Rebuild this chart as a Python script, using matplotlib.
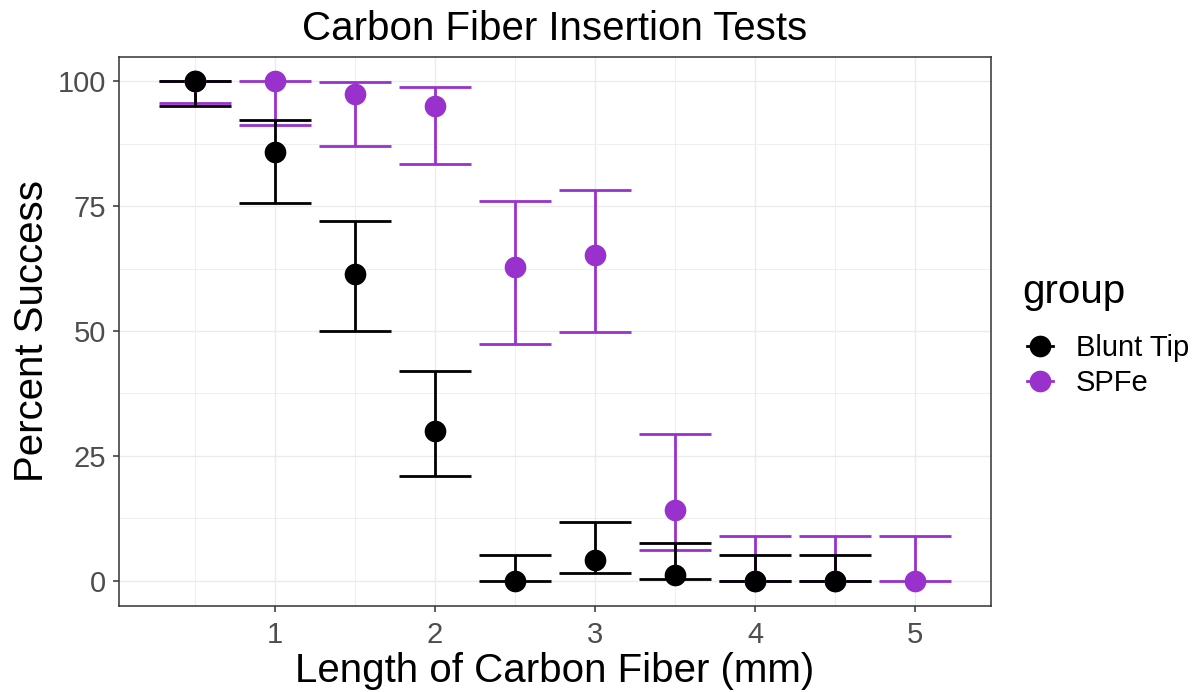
import matplotlib
matplotlib.use("Agg")
import matplotlib.pyplot as plt
import numpy as np
from matplotlib.lines import Line2D
from matplotlib.ticker import FixedLocator

plt.rcParams['font.family'] = ['Liberation Sans', 'DejaVu Sans']

# values (percent success, lower / upper error limits)
blunt_x = [0.5, 1, 1.5, 2, 2.5, 3, 3.5, 4, 4.5]
blunt_pct = [100, 85.8, 61.5, 30.0, 0, 4.1, 1.1, 0, 0]
blunt_lo = [95.0, 75.7, 49.9, 20.9, 0, 1.5, 0.4, 0, 0]
blunt_hi = [100, 92.3, 72.0, 41.9, 5.2, 11.8, 7.6, 5.2, 5.2]

spfe_x = [0.5, 1, 1.5, 2, 2.5, 3, 3.5, 4, 4.5, 5]
spfe_pct = [100, 100, 97.4, 95.1, 62.8, 65.3, 14.2, 0, 0, 0]
spfe_lo = [95.7, 91.3, 87.1, 83.5, 47.3, 49.8, 6.1, 0, 0, 0]
spfe_hi = [100, 100, 99.9, 98.9, 76.1, 78.3, 29.4, 8.9, 8.9, 8.9]

groups = ['Blunt Tip', 'SPFe']
colors = ['black', '#9932CC']

x_ticks = [1, 2, 3, 4, 5]
y_ticks = [0, 25, 50, 75, 100]

cap_w = 0.225  # half width of error bar caps (data units)
W, H = 1202, 692

fig = plt.figure(figsize=(W / 100, H / 100), dpi=100)
ax = fig.add_axes([119 / W, 1 - 605.5 / H, (991 - 119) / W, (605.5 - 56.5) / H])

series = [(spfe_x, spfe_pct, spfe_lo, spfe_hi, colors[1]),
          (blunt_x, blunt_pct, blunt_lo, blunt_hi, colors[0])]

# SPFe drawn first, blunt tip on top
for x, y, lo, hi, c in series:
    x = np.array(x)
    ax.vlines(x, lo, hi, color=c, lw=2.0, zorder=2)
    ax.hlines(lo, x - cap_w, x + cap_w, color=c, lw=2.0, zorder=2)
    ax.hlines(hi, x - cap_w, x + cap_w, color=c, lw=2.0, zorder=2)
    ax.plot(x, y, 'o', color=c, ms=15.6, mew=0, zorder=3)

# ggplot-style 5% expansion
all_x = blunt_x + spfe_x
x0, x1 = min(all_x) - cap_w, max(all_x) + cap_w
ax.set_xlim(x0 - 0.05 * (x1 - x0), x1 + 0.05 * (x1 - x0))
ax.set_ylim(-5, 105)

ax.xaxis.set_major_locator(FixedLocator(x_ticks))
ax.yaxis.set_major_locator(FixedLocator(y_ticks))
ax.xaxis.set_minor_locator(FixedLocator([0.5, 1.5, 2.5, 3.5, 4.5]))
ax.yaxis.set_minor_locator(FixedLocator([12.5, 37.5, 62.5, 87.5]))
ax.grid(which='major', color='#EBEBEB', lw=1.0, zorder=0)
ax.grid(which='minor', color='#EBEBEB', lw=0.55, zorder=0)
ax.set_axisbelow(True)
ax.tick_params(which='minor', length=0)
ax.tick_params(axis='both', which='major', labelsize=21, labelcolor='#4D4D4D',
               color='#333333', length=4.3, width=1.1)
ax.tick_params(axis='x', pad=6.7)
ax.tick_params(axis='y', pad=4.9)
for s in ax.spines.values():
    s.set_color('#333333')
    s.set_linewidth(1.1)

fig.text(555 / W, 1 - 39.6 / H, 'Carbon Fiber Insertion Tests', ha='center',
         va='baseline', fontsize=29)
fig.text(555 / W, 1 - 682 / H, 'Length of Carbon Fiber (mm)', ha='center',
         va='baseline', fontsize=29)
fig.text(32 / W, 1 - 331 / H, 'Percent Success', ha='center', va='center',
         rotation=90, fontsize=29)

# legend
fig.text(1022 / W, 1 - 303 / H, 'group', ha='left', va='baseline', fontsize=29)
handles = [Line2D([], [], color=c, marker='o', ms=15.6, mew=0, lw=2.0) for c in colors]
fig.legend(handles, groups, loc='upper left', bbox_to_anchor=(1027 / W, 1 - 334.5 / H),
           frameon=False, fontsize=21, handlelength=0.88, handletextpad=0.8,
           labelspacing=0.22, borderpad=0, borderaxespad=0)

fig.savefig('out.png', dpi=100)
